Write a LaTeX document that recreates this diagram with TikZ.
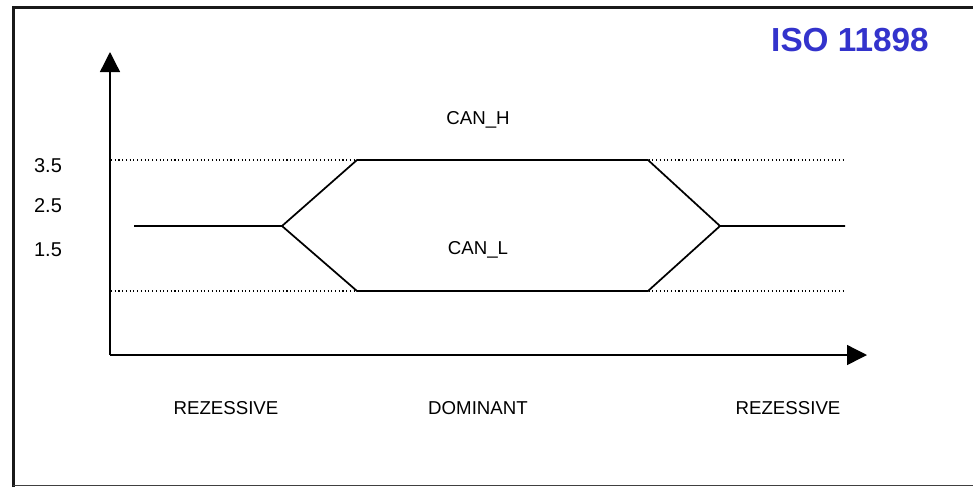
\documentclass[tikz,border=0pt]{standalone}
\usepackage{fontspec}
\setmainfont{Liberation Sans}
\usepackage{tikz}
\usetikzlibrary{arrows.meta,positioning}
\definecolor{isoblue}{RGB}{51,51,204}
\tikzstyle{frameline} = [line width=2.6pt, color=black!90]
\tikzstyle{axis} = [line width=1pt, -{Triangle[width=15pt,length=15pt]}]
\tikzstyle{level} = [dotted, line width=0.8pt]
\tikzstyle{signal} = [line width=1.3pt, line join=miter]
\tikzstyle{lbl} = [font=\fontsize{14}{16}\selectfont, inner sep=0pt]

\begin{document}
\begin{tikzpicture}[x=0.75pt, y=-0.75pt]
\useasboundingbox (0,0) rectangle (973,487);

% Frame
\draw[frameline] (13.5,487) -- (13.5,7.5) -- (973,7.5);
\draw[line width=1.3pt, color=black!75] (13,485.5) -- (973,485.5);

% Title
\node (iso) [font=\fontsize{25}{28}\selectfont\bfseries, color=isoblue, inner sep=0pt] at (850,40) {ISO 11898};

% Axes
\coordinate (origin) at (110,355);
\coordinate (ytip) at (110,52);
\coordinate (xtip) at (867,355);
\draw[axis] (origin) -- (ytip);
\draw[axis] (origin) -- (xtip);

% Voltage levels
\node (v35) [lbl, font=\fontsize{15}{17}\selectfont] at (48,166) {3.5};
\node (v25) [lbl, font=\fontsize{15}{17}\selectfont] at (48,206) {2.5};
\node (v15) [lbl, font=\fontsize{15}{17}\selectfont] at (48,250) {1.5};
\coordinate (hstart) at (111,160);
\coordinate (hend) at (845,160);
\coordinate (lstart) at (111,291);
\coordinate (lend) at (845,291);
\draw[level] (hstart) -- (hend);
\draw[level] (lstart) -- (lend);

% Bus signal
\coordinate (recl) at (134,226);
\coordinate (split) at (282,226);
\coordinate (hup) at (357,160);
\coordinate (hdown) at (648,160);
\coordinate (lup) at (357,291);
\coordinate (ldown) at (648,291);
\coordinate (join) at (720,226);
\coordinate (recr) at (845,226);
\draw[signal] (recl) -- (split) -- (hup) -- (hdown) -- (join) -- (recr);
\draw[signal] (split) -- (lup) -- (ldown) -- (join);

\node (canh) [lbl] at (478,120) {CAN\_H};
\node (canl) [lbl] at (478,250) {CAN\_L};

% Bus states
\node (rez1) [lbl] at (226,408) {REZESSIVE};
\node (dom) [lbl] at (478,408) {DOMINANT};
\node (rez2) [lbl] at (788,408) {REZESSIVE};
\end{tikzpicture}
\end{document}
